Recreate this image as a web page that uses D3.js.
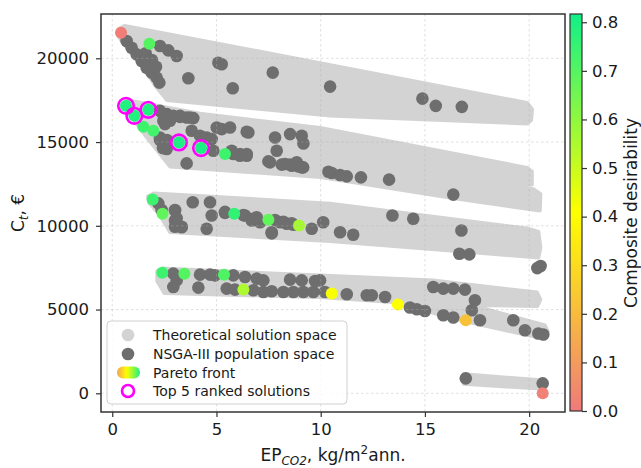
<!DOCTYPE html>
<html>
<head>
<meta charset="utf-8">
<script src="https://cdn.jsdelivr.net/npm/d3@7"></script>
<style>
  body { margin: 0; background: #fff; }
  svg { font-family: "DejaVu Sans", sans-serif; }
</style>
</head>
<body>
<div class="chart"></div>
<script>
// theoretical solution space, outline of each band (EP, cost)
var band1X = [0.30, 0.60, 19.90, 20.15, 20.10, 19.90, 10.45, 2.62, 2.14, 1.33, 0.50, 0.27];
var band1Y = [21750, 21950, 17350, 16950, 16300, 16100, 16565, 17500, 18232, 19700, 20900, 21400];
var band2X = [0.45, 0.75, 4.21, 9.97, 19.90, 20.14, 20.14, 17.16, 20.20, 20.55, 20.52, 16.35, 10.00, 2.77, 1.66, 0.71, 0.42];
var band2Y = [17250, 17500, 16700, 15851, 13470, 13250, 12450, 12700, 12200, 11900, 10900, 11637, 12900, 13530, 15260, 16860, 17000];
var band3X = [1.70, 2.00, 10.45, 19.90, 20.45, 20.55, 20.45, 10.45, 2.77, 2.30, 1.75];
var band3Y = [11750, 11950, 11339, 9851, 9650, 8700, 8100, 9077, 9613, 10600, 11400];
var band4X = [2.15, 2.40, 9.97, 15.39, 20.38, 20.55, 20.40, 17.30, 20.76, 20.90, 20.70, 16.69, 13.48, 9.97, 2.50, 2.15];
var band4Y = [7300, 7460, 7042, 6744, 6030, 5600, 5200, 5250, 4060, 3700, 3250, 4363, 5435, 5732, 5970, 6700];
var band5X = [16.85, 20.70, 20.75, 16.85];
var band5Y = [1150, 780, 250, 550];

// NSGA-III population
var nsgaX = [0.69, 0.93, 1.17, 1.41, 1.65, 1.89, 2.13, 2.26, 2.29, 2.69, 3.09, 3.65, 5.09, 5.25, 5.78, 7.70, 10.45, 14.88, 15.52, 16.77, 1.6, 1.9, 2.1,
  2.29, 2.62, 2.93, 3.25, 3.57, 3.89, 2.45, 2.53, 2.29, 2.45, 2.61, 3.81, 4.21, 4.53, 4.77, 5.01, 5.25, 5.65, 6.53, 3.57, 4.85, 5.81, 6.13, 6.45, 7.57, 7.81, 7.89, 8.53, 9.09, 9.17, 8.29, 8.61, 8.92, 9.16, 10.53, 10.93, 11.25, 11.93, 13.28, 16.36,
  2.45, 2.77, 3.25, 3.73, 2.29, 2.43, 2.62, 5.73, 6.13, 6.45, 6.45, 7.49, 8.13, 8.53, 8.85, 9.09, 10.37,
  3.86, 4.69, 4.77, 4.53, 3.01, 3.01, 6.37, 6.77, 7.09, 7.65, 8.05, 8.37, 8.69, 9.57, 3.33, 5.41, 6.69, 6.93, 10.12, 10.93, 11.56, 13.44, 14.44, 16.75, 16.65, 17.13, 20.39, 20.55,
  2.21, 2.37, 3.01, 3.09, 3.01, 3.33, 5.41, 6.29, 7.81, 8.21, 8.61, 7.65,
  2.93, 3.09, 2.93, 4.13, 4.21, 4.69, 4.93, 5.81, 6.37, 6.93, 7.25, 5.49, 5.89, 6.77, 7.25, 7.65, 8.21, 8.69, 9.17, 9.65, 8.53, 9.09, 9.73, 9.97, 10.2, 11.25, 12.21, 12.45, 13.09, 14.28, 14.61, 15.0, 15.40, 15.88, 16.36, 16.92, 17.40, 17.25, 15.88, 16.36, 17.64, 19.24, 19.80, 20.44, 20.68,
  16.96, 20.65];
var nsgaY = [21030, 20631, 20238, 19839, 19440, 19143, 18845, 18548, 20732, 20476, 20137, 18810, 19738, 19643, 18214, 19143, 18310, 17595, 17161, 17101, 20300, 19900, 19500,
  16863, 16667, 16565, 16506, 16464, 16429, 16268, 16071, 15274, 14881, 14583, 15673, 15375, 15274, 15179, 15869, 15774, 15869, 15571, 13726, 14482, 14286, 14185, 14185, 13786, 15274, 14482, 15476, 15375, 14917, 13690, 13589, 13548, 13488, 13155, 13036, 12952, 12893, 12756, 11863,
  16667, 16268, 16565, 16468, 15120, 14640, 15120, 14482, 14286, 14286, 15617, 13845, 13650, 13650, 13790, 13490, 13230,
  11405, 11405, 10613, 9821, 10911, 10315, 10613, 10417, 10214, 9619, 10214, 10119, 10060, 9821, 9917, 10774, 10315, 10512, 10214, 9619, 9464, 10613, 10417, 9720, 8333, 8292, 7476, 7600,
  11340, 10940, 10940, 10450, 9946, 9946, 10833, 10640, 10345, 10240, 10150, 9550,
  7143, 6744, 6345, 6310, 7083, 7083, 7042, 7042, 6940, 6845, 6744, 6250, 6190, 6149, 6048, 6089, 6048, 6048, 6048, 6048, 6786, 6744, 6702, 6744, 6048, 5911, 5851, 5851, 5750, 5119, 5018, 4917, 6345, 6250, 6250, 6190, 5554, 4958, 4661, 4524, 4363, 4363, 3768, 3571, 3512,
  893, 595];

// Pareto front with composite desirability
var paretoX = [0.42, 1.78, 0.66, 1.06, 1.73, 3.20, 4.26, 1.49, 1.97, 5.41, 1.94, 2.41, 5.85, 7.49, 8.96, 2.40, 3.46, 5.36, 6.29, 10.53, 13.70, 16.96, 20.65];
var paretoY = [21524, 20869, 17161, 16565, 16923, 14976, 14643, 15911, 15673, 14286, 11565, 10714, 10714, 10357, 10018, 7202, 7143, 7083, 6190, 5952, 5298, 4363, 0];
var paretoD = [0.01, 0.70, 0.79, 0.79, 0.79, 0.80, 0.80, 0.74, 0.73, 0.74, 0.74, 0.68, 0.76, 0.68, 0.56, 0.74, 0.70, 0.71, 0.55, 0.42, 0.41, 0.22, 0.02];

// top 5 ranked solutions
var topX = [0.66, 1.06, 1.73, 3.20, 4.26];
var topY = [17161, 16565, 16923, 14976, 14643];

var xTicks = [0, 5, 10, 15, 20];
var yTicks = [0, 5000, 10000, 15000, 20000];
var cbTicks = [0, 0.1, 0.2, 0.3, 0.4, 0.5, 0.6, 0.7, 0.8];
var legendLabels = ["Theoretical solution space", "NSGA-III population space", "Pareto front", "Top 5 ranked solutions"];

var width = 641, height = 468;
var pl = 101, pr = 565, pt = 14, pb = 412;

var x = d3.scaleLinear().domain([-0.54, 21.72]).range([pl, pr]);
var y = d3.scaleLinear().domain([-1116, 22645]).range([pb, pt]);
var dmax = 0.817;
var color = d3.scaleLinear().domain([0, dmax / 2, dmax]).range(["#f07a7a", "#ffff00", "#10f088"]);
var cb = d3.scaleLinear().domain([0, dmax]).range([411, 14]);

var svg = d3.select(".chart").append("svg")
  .attr("width", width)
  .attr("height", height);

var defs = svg.append("defs");
defs.append("clipPath").attr("id", "plotclip")
  .append("rect").attr("x", pl).attr("y", pt).attr("width", pr - pl).attr("height", pb - pt);

var cbGrad = defs.append("linearGradient").attr("id", "cbgrad")
  .attr("x1", 0).attr("y1", 1).attr("x2", 0).attr("y2", 0);
d3.range(0, 1.001, 0.1).forEach(function (t) {
  cbGrad.append("stop").attr("offset", t).attr("stop-color", color(t * dmax));
});
var lgGrad = defs.append("linearGradient").attr("id", "lggrad")
  .attr("x1", 0).attr("y1", 0).attr("x2", 1).attr("y2", 0);
d3.range(0, 1.001, 0.1).forEach(function (t) {
  lgGrad.append("stop").attr("offset", t).attr("stop-color", color(0.12 + t * 0.68));
});

var plot = svg.append("g").attr("clip-path", "url(#plotclip)");

// gray bands
var bands = [[band1X, band1Y], [band2X, band2Y], [band3X, band3Y], [band4X, band4Y], [band5X, band5Y]];
var line = d3.line()
  .x(function (d) { return x(d[0]); })
  .y(function (d) { return y(d[1]); })
  .curve(d3.curveLinearClosed);

plot.selectAll("path.band")
  .data(bands)
  .enter()
  .append("path")
  .attr("class", "band")
  .attr("d", function (b) { return line(b[0].map(function (v, i) { return [v, b[1][i]]; })); })
  .attr("fill", "#d3d3d3")
  .attr("stroke", "#d3d3d3")
  .attr("stroke-width", 3.5)
  .attr("stroke-linejoin", "round");

plot.selectAll("circle.nsga")
  .data(nsgaX)
  .enter()
  .append("circle")
  .attr("class", "nsga")
  .attr("cx", function (d) { return x(d); })
  .attr("cy", function (d, i) { return y(nsgaY[i]); })
  .attr("r", 6.3)
  .attr("fill", "#6e6e6e");

plot.selectAll("circle.pareto")
  .data(paretoX)
  .enter()
  .append("circle")
  .attr("class", "pareto")
  .attr("cx", function (d) { return x(d); })
  .attr("cy", function (d, i) { return y(paretoY[i]); })
  .attr("r", 6)
  .attr("fill", function (d, i) { return color(paretoD[i]); });

plot.selectAll("circle.top")
  .data(topX)
  .enter()
  .append("circle")
  .attr("class", "top")
  .attr("cx", function (d) { return x(d); })
  .attr("cy", function (d, i) { return y(topY[i]); })
  .attr("r", 7.8)
  .attr("fill", "none")
  .attr("stroke", "#ff00ff")
  .attr("stroke-width", 2.6);

// grid sits above the scatter, like matplotlib
var grid = svg.append("g")
  .attr("stroke", "#b0b0b0")
  .attr("stroke-opacity", 0.5)
  .attr("stroke-width", 0.8)
  .attr("stroke-dasharray", "2.5,2.5");
grid.selectAll("line.gx").data(xTicks).enter().append("line")
  .attr("x1", function (d) { return x(d); }).attr("x2", function (d) { return x(d); })
  .attr("y1", pt).attr("y2", pb);
grid.selectAll("line.gy").data(yTicks).enter().append("line")
  .attr("y1", function (d) { return y(d); }).attr("y2", function (d) { return y(d); })
  .attr("x1", pl).attr("x2", pr);

// axes
var xAxis = svg.append("g")
  .attr("transform", "translate(0," + pb + ")")
  .call(d3.axisBottom(x).tickValues(xTicks).tickSize(5).tickPadding(6).tickFormat(d3.format("d")));
var yAxis = svg.append("g")
  .attr("transform", "translate(" + pl + ",0)")
  .call(d3.axisLeft(y).tickValues(yTicks).tickSize(5).tickPadding(7).tickFormat(d3.format("d")));
[xAxis, yAxis].forEach(function (a) {
  a.select(".domain").remove();
  a.selectAll("line").attr("stroke", "#333").attr("stroke-width", 1.2);
  a.selectAll("text").attr("font-size", "16.5px").attr("fill", "#1a1a1a").attr("font-family", "DejaVu Sans");
});

svg.append("rect")
  .attr("x", pl).attr("y", pt)
  .attr("width", pr - pl).attr("height", pb - pt)
  .attr("fill", "none").attr("stroke", "#333").attr("stroke-width", 1.5);

// legend
var lg = svg.append("g");
lg.append("rect")
  .attr("x", 107).attr("y", 321).attr("width", 240).attr("height", 83).attr("rx", 4)
  .attr("fill", "#fff").attr("fill-opacity", 0.8)
  .attr("stroke", "#d0d0d0").attr("stroke-width", 1);
var rowY = [335, 354, 372.5, 391];
lg.append("circle").attr("cx", 128).attr("cy", rowY[0]).attr("r", 6.3).attr("fill", "#d3d3d3");
lg.append("circle").attr("cx", 128).attr("cy", rowY[1]).attr("r", 6.3).attr("fill", "#6e6e6e");
lg.append("rect").attr("x", 117).attr("y", rowY[2] - 6).attr("width", 23).attr("height", 12).attr("rx", 6)
  .attr("fill", "url(#lggrad)");
lg.append("circle").attr("cx", 128).attr("cy", rowY[3]).attr("r", 6).attr("fill", "none")
  .attr("stroke", "#ff00ff").attr("stroke-width", 2.6);
lg.selectAll("text.lg")
  .data(legendLabels)
  .enter()
  .append("text")
  .attr("x", 153)
  .attr("y", function (d, i) { return rowY[i] + 5; })
  .attr("font-size", "14px")
  .attr("fill", "#1a1a1a")
  .text(function (d) { return d; });

// colorbar
svg.append("rect")
  .attr("x", 570).attr("y", 14).attr("width", 12).attr("height", 397)
  .attr("fill", "url(#cbgrad)")
  .attr("stroke", "#333").attr("stroke-width", 1.2);
var cbAxis = svg.append("g")
  .attr("transform", "translate(582,0)")
  .call(d3.axisRight(cb).tickValues(cbTicks).tickSize(5).tickPadding(5).tickFormat(d3.format(".1f")));
cbAxis.select(".domain").remove();
cbAxis.selectAll("line").attr("stroke", "#333").attr("stroke-width", 1.2);
cbAxis.selectAll("text").attr("font-size", "16.5px").attr("fill", "#1a1a1a").attr("font-family", "DejaVu Sans");

// axis labels
var xl = svg.append("text")
  .attr("x", 333).attr("y", 461)
  .attr("text-anchor", "middle")
  .attr("font-size", "17px")
  .attr("fill", "#1a1a1a");
xl.append("tspan").text("EP");
xl.append("tspan").attr("font-size", "12px").attr("font-style", "italic").attr("dy", 3.5).text("CO2");
xl.append("tspan").attr("dy", -3.5).text(", kg/m");
xl.append("tspan").attr("font-size", "12px").attr("dy", -7).text("2");
xl.append("tspan").attr("dy", 7).text("ann.");

var yl = svg.append("text")
  .attr("transform", "translate(24,213) rotate(-90)")
  .attr("text-anchor", "middle")
  .attr("font-size", "17px")
  .attr("fill", "#1a1a1a");
yl.append("tspan").text("C");
yl.append("tspan").attr("font-size", "12px").attr("font-style", "italic").attr("dy", 4).text("t");
yl.append("tspan").attr("dy", -4).text(", €");

svg.append("text")
  .attr("transform", "translate(637,213) rotate(-90)")
  .attr("text-anchor", "middle")
  .attr("font-size", "17px")
  .attr("fill", "#1a1a1a")
  .text("Composite desirability");
</script>
</body>
</html>
